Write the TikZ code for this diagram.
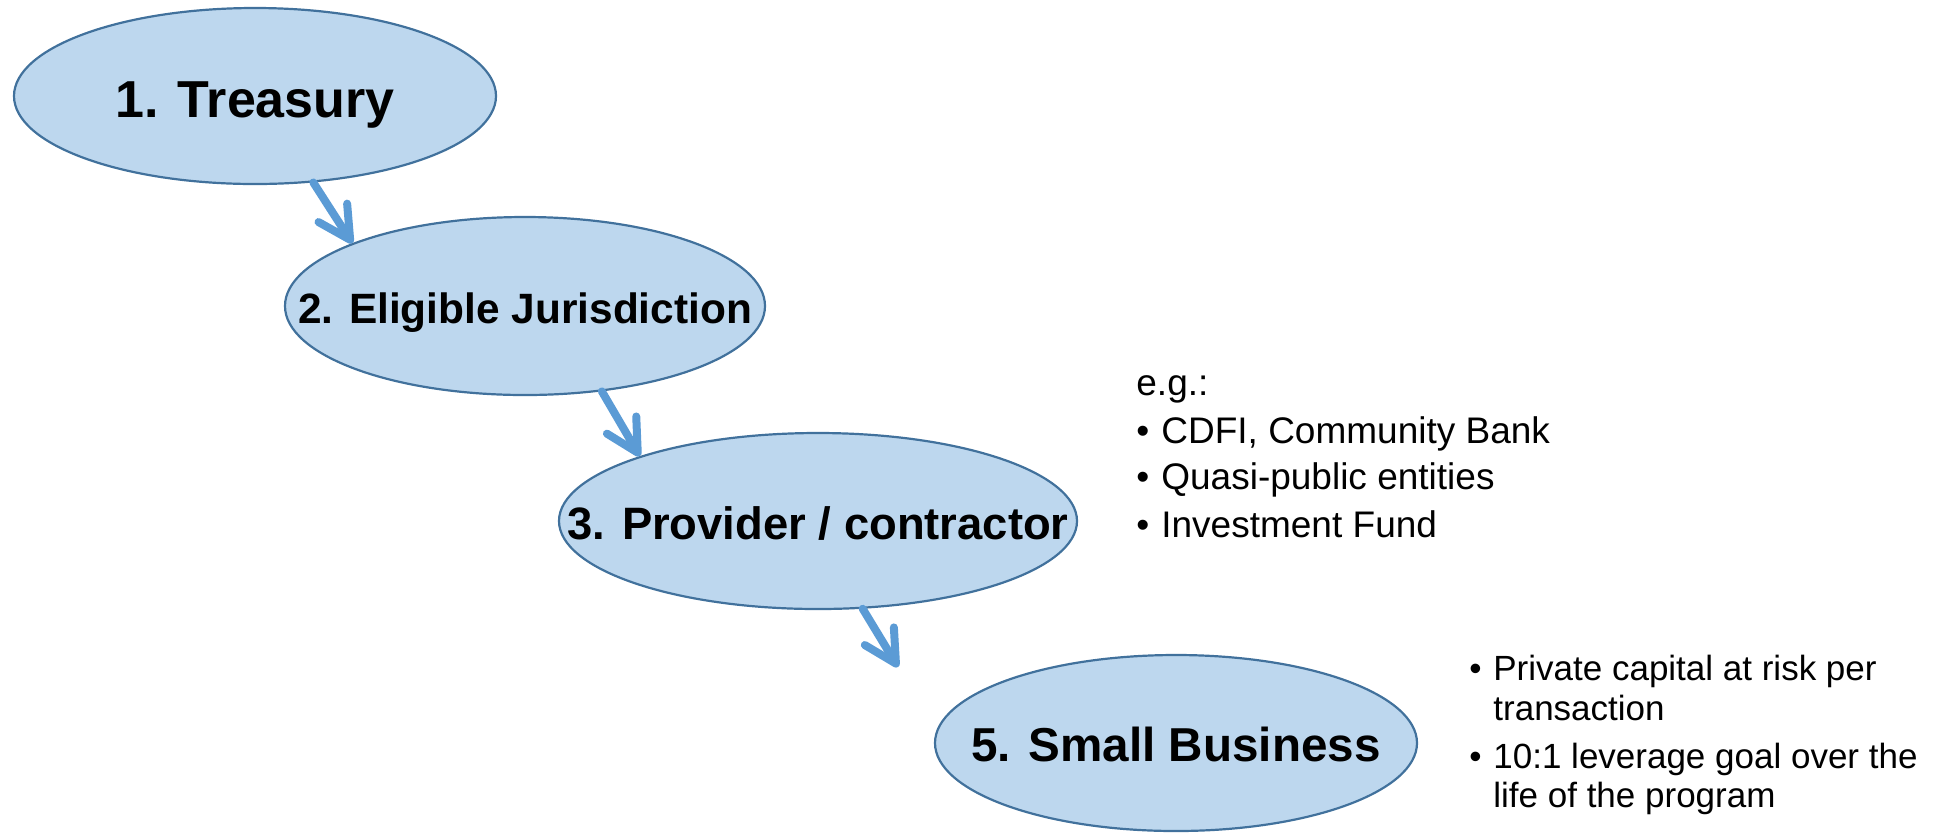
\documentclass[tikz,border=0pt]{standalone}
\usepackage{fontspec}
\setmainfont{Liberation Sans}
\usetikzlibrary{shapes.geometric,arrows.meta}

\definecolor{stepfill}{HTML}{BDD7EE}
\definecolor{stepline}{HTML}{41719C}
\definecolor{flowblue}{HTML}{5B9BD5}

\tikzset{
  stage/.style={ellipse, draw=stepline, fill=stepfill, line width=1.1pt, inner sep=0pt},
  stagelabel/.style={inner sep=0pt, anchor=base},
  flow/.style={draw=flowblue, line width=4pt, line cap=round, line join=round,
    -{Straight Barb[length=16pt, width=17pt, line cap=round, line join=round]}},
  note/.style={anchor=base west, inner sep=0pt},
  leftnote/.style={note, font=\fontsize{18.5pt}{22pt}\selectfont},
  rightnote/.style={note, font=\fontsize{17.5pt}{21pt}\selectfont},
}

\begin{document}
\begin{tikzpicture}[x=0.5pt, y=-0.5pt]
  \useasboundingbox (0,0) rectangle (1954,832);

  % the four stages
  \node[stage, minimum width=241pt, minimum height=88pt] (e1) at (255,96) {};
  \node[stage, minimum width=240pt, minimum height=89pt] (e2) at (525,306) {};
  \node[stage, minimum width=259pt, minimum height=88pt] (e3) at (818,521) {};
  \node[stage, minimum width=241pt, minimum height=88pt] (e5) at (1176,743) {};

  \node[stagelabel, font=\bfseries\fontsize{26pt}{30pt}\selectfont]
    (l1) at ([yshift=-10.5pt]e1.center) {1. Treasury};
  \node[stagelabel, font=\bfseries\fontsize{21.2pt}{25pt}\selectfont]
    (l2) at ([yshift=-8.5pt]e2.center) {2. Eligible Jurisdiction};
  \node[stagelabel, font=\bfseries\fontsize{22.7pt}{26pt}\selectfont]
    (l3) at ([yshift=-9pt]e3.center) {3. Provider / contractor};
  \node[stagelabel, font=\bfseries\fontsize{23.8pt}{27pt}\selectfont]
    (l5) at ([yshift=-9pt]e5.center) {5. Small Business};

  % flow between the stages
  \coordinate (a3end) at (898,667);
  \draw[flow] (e1.-56) -- (e2.160);
  \draw[flow] (e2.-48) -- (e3.160);
  \draw[flow] (e3.-63) -- (a3end);

  % examples of providers
  \node[leftnote] (eg) at (1136,395) {e.g.:};
  \node[leftnote] (eg1) at (1136,443) {\makebox[12.5pt][l]{•}CDFI, Community Bank};
  \node[leftnote] (eg2) at (1136,489) {\makebox[12.5pt][l]{•}Quasi-public entities};
  \node[leftnote] (eg3) at (1136,537) {\makebox[12.5pt][l]{•}Investment Fund};

  % notes on the small business stage
  \node[rightnote] (sb1) at (1469,680) {\makebox[12pt][l]{•}Private capital at risk per};
  \node[rightnote] (sb1b) at (1493,720) {transaction};
  \node[rightnote] (sb2) at (1469,768) {\makebox[12pt][l]{•}10:1 leverage goal over the};
  \node[rightnote] (sb2b) at (1493,807) {life of the program};
\end{tikzpicture}
\end{document}
